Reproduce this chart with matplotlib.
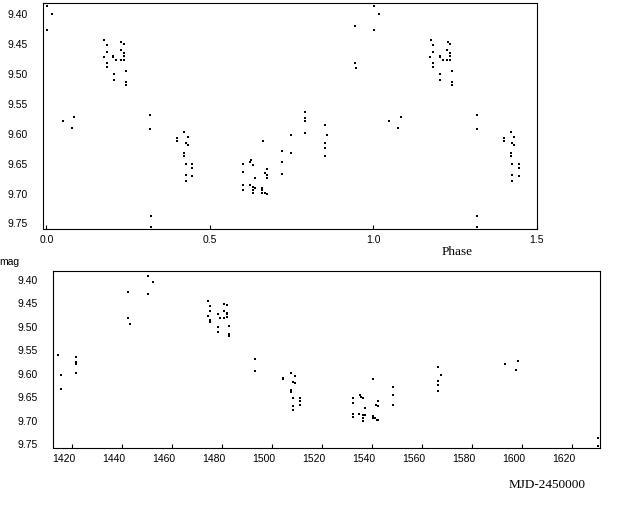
import matplotlib
matplotlib.use("Agg")
import matplotlib.pyplot as plt
import matplotlib.transforms as mtransforms
import numpy as np

# ---- Top panel: phase-folded data (phase in [0,1), magnitude) ----
phase = [0.001, 0.016, 0.001,
         0.0495, 0.084, 0.077,
         0.1758, 0.1841, 0.1841, 0.1749, 0.1841, 0.1841, 0.2043, 0.2043, 0.2125, 0.2055, 0.2055,
         0.2278, 0.2361, 0.2269, 0.2361, 0.2361, 0.2269, 0.2361, 0.2422, 0.2422, 0.2422,
         0.3165, 0.3165, 0.3187, 0.3187,
         0.399, 0.399, 0.4205, 0.4318, 0.4257, 0.4318, 0.4205, 0.4205, 0.4257, 0.4465, 0.4465,
         0.4257, 0.4465, 0.4257,
         0.6612, 0.6245, 0.6223, 0.600, 0.6306, 0.6734, 0.600, 0.6673, 0.6734, 0.6734, 0.6367,
         0.600, 0.6223, 0.600, 0.6306, 0.6367, 0.6306, 0.6306, 0.659, 0.660, 0.659, 0.6673, 0.6734,
         0.7193, 0.7193, 0.7193, 0.7468, 0.7468, 0.7905, 0.7905, 0.7905, 0.7905,
         0.8508, 0.8569, 0.8508, 0.8508, 0.8508,
         0.9434, 0.9434, 0.9486]
mag_phase = [9.387, 9.399, 9.426,
             9.578, 9.572, 9.590,
             9.4428, 9.4523, 9.4624, 9.4718, 9.4808, 9.4875, 9.4696, 9.4721, 9.4774, 9.4992, 9.5093,
             9.4473, 9.4506, 9.4595, 9.4657, 9.4691, 9.4774, 9.4763, 9.4942, 9.5136, 9.5182,
             9.5684, 9.5914, 9.7376, 9.7555,
             9.6064, 9.6128, 9.5969, 9.6048, 9.6161, 9.6187, 9.6329, 9.6371, 9.6513, 9.6513, 9.658,
             9.6681, 9.6701, 9.6785,
             9.612, 9.6446, 9.6471, 9.6513, 9.653, 9.6585, 9.6634, 9.6651, 9.6681, 9.6739, 9.6739,
             9.6848, 9.6848, 9.6932, 9.6893, 9.6902, 9.694, 9.6991, 9.6907, 9.694, 9.6982, 9.6982, 9.6999,
             9.6282, 9.6466, 9.6667, 9.6014, 9.6316, 9.5629, 9.5729, 9.578, 9.5981,
             9.5852, 9.6019, 9.6148, 9.6232, 9.6366,
             9.4205, 9.4808, 9.4908]

# ---- Bottom panel: time series (MJD-2450000, magnitude) ----
mjd = [1414.4, 1415.7, 1415.7, 1421.6, 1421.6, 1421.6, 1421.6,
       1442.5, 1442.5, 1443.3, 1450.4, 1452.4, 1450.4,
       1474.3, 1475.1, 1475.1, 1474.3, 1475.1, 1475.1, 1478.3, 1479.1, 1478.3, 1478.3,
       1481.05, 1482.25, 1481.05, 1482.25, 1482.25, 1481.05, 1482.25, 1483.04, 1483.04, 1483.04,
       1493.1, 1493.1,
       1504.3, 1504.3, 1507.5, 1509.1, 1508.3, 1509.1, 1507.5, 1507.5, 1508.3, 1508.3, 1508.3,
       1511.2, 1511.2, 1511.2,
       1532.26, 1532.26, 1532.26, 1532.26, 1535.3, 1535.7, 1536.26, 1537.06, 1534.9, 1536.26,
       1537.06, 1536.26, 1536.26, 1540.26, 1542.25, 1541.57, 1542.37, 1540.26, 1540.26, 1541.05,
       1541.85, 1542.37,
       1548.25, 1548.25, 1548.25,
       1566.2, 1567.4, 1566.2, 1566.2, 1566.2,
       1593.1, 1597.5, 1598.2,
       1630.15, 1630.15]
mag_time = [9.5601, 9.6027, 9.632, 9.5637, 9.5756, 9.5793, 9.5978,
            9.4256, 9.4817, 9.4933, 9.3908, 9.4043, 9.4292,
            9.4442, 9.4549, 9.4655, 9.4762, 9.4847, 9.4896, 9.4719, 9.4805, 9.4997, 9.5103,
            9.4502, 9.4527, 9.4672, 9.4694, 9.4736, 9.4811, 9.4783, 9.4982, 9.5142, 9.5195,
            9.5692, 9.5936,
            9.6085, 9.6119, 9.5978, 9.6042, 9.617, 9.6198, 9.6348, 9.6397, 9.6512, 9.6689, 9.6774,
            9.6512, 9.6582, 9.6674,
            9.6512, 9.6618, 9.6853, 9.6924, 9.6454, 9.649, 9.6518, 9.6725, 9.6853, 9.6875,
            9.6875, 9.6939, 9.7003, 9.6106, 9.6582, 9.6661, 9.6695, 9.6896, 9.6939, 9.6939,
            9.6981, 9.6981,
            9.6277, 9.6454, 9.6661,
            9.585, 9.6021, 9.6155, 9.6241, 9.6362,
            9.5786, 9.5914, 9.5722,
            9.7365, 9.7536]

phase_ticks = [0.0, 0.5, 1.0, 1.5]
phase_ticklabels = ["0.0", "0.5", "1.0", "1.5"]
mjd_ticks = [1420, 1440, 1460, 1480, 1500, 1520, 1540, 1560, 1580, 1600, 1620]
mag_ticks = [9.40, 9.45, 9.50, 9.55, 9.60, 9.65, 9.70, 9.75]

W, H = 630, 508
fig = plt.figure(figsize=(W / 100, H / 100), dpi=100)
fig.patch.set_facecolor("white")

def rect(l, t, r, b):
    return [l / W, 1 - b / H, (r - l) / W, (b - t) / H]

ax1 = fig.add_axes(rect(42.7, 2.7, 536.7, 229))
ax2 = fig.add_axes(rect(53.3, 271, 600.3, 448.3))

tick_font = dict(family="Liberation Sans", size=7.5)
serif = ["Liberation Serif", "DejaVu Serif"]

# phase folded (repeat up to phase 1.5)
ph = np.array(phase)
mp = np.array(mag_phase)
rep = ph + 1.0 <= 1.5
ph_all = np.concatenate([ph, ph[rep] + 1.0])
mp_all = np.concatenate([mp, mp[rep]])

for ax in (ax1, ax2):
    for s in ax.spines.values():
        s.set_linewidth(0.8)
        s.set_color("black")
    ax.set_ylim(9.7592, 9.3808)
    ax.set_yticks(mag_ticks)
    ax.set_yticklabels(["%.2f" % v for v in mag_ticks], fontdict=tick_font)
    ax.tick_params(axis="y", length=0, pad=11)
    ax.tick_params(axis="x", direction="in", length=3, width=0.8, pad=4)

ax1.plot(ph_all, mp_all, ls="none", marker="s", ms=1.6, mew=0, color="black")
ax1.set_xlim(-0.0116, 1.5)
ax1.set_xticks(phase_ticks)
ax1.set_xticklabels(phase_ticklabels, fontdict=tick_font)

ax2.plot(mjd, mag_time, ls="none", marker="s", ms=1.6, mew=0, color="black")
ax2.set_xlim(1412.65, 1631.2)
ax2.set_xticks(mjd_ticks)
ax2.set_xticklabels([str(v) for v in mjd_ticks], fontdict=tick_font)
off = mtransforms.ScaledTranslation(-8 / 100, 0, fig.dpi_scale_trans)
for lab in ax2.get_xticklabels():
    lab.set_transform(lab.get_transform() + off)

fig.text(456.7 / W, 1 - 252 / H, "Phase", family=serif, fontsize=9.5, ha="center", va="center")
fig.text(547.5 / W, 1 - 485 / H, "MJD-2450000", family=serif, fontsize=9.5, ha="center", va="center")
fig.text(9.7 / W, 1 - 262 / H, "mag", family="Liberation Sans", fontsize=7.5, ha="center", va="center")

fig.savefig("out.png", dpi=100)
